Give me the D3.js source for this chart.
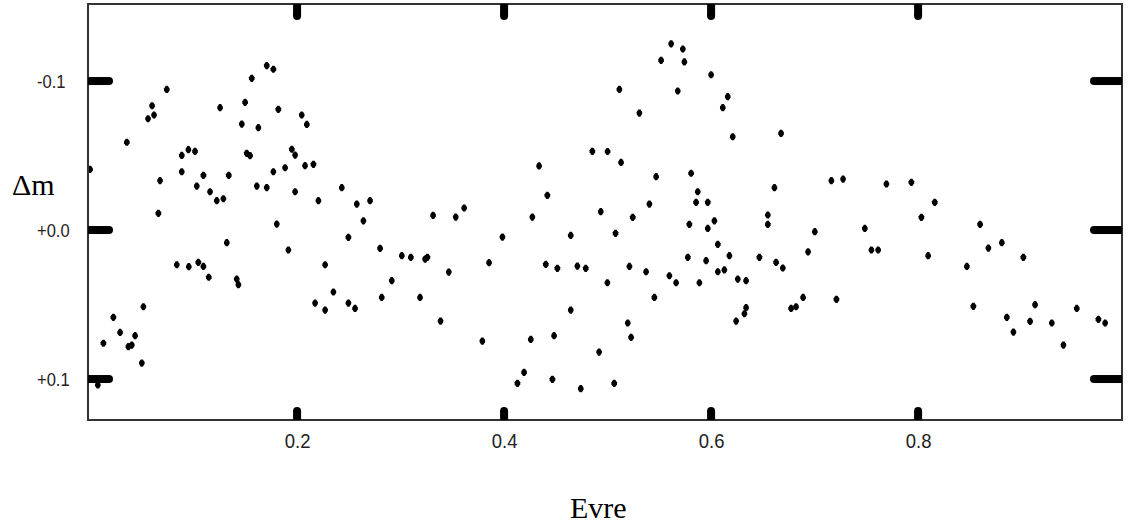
<!DOCTYPE html>
<html>
<head>
<meta charset="utf-8">
<script src="https://cdn.jsdelivr.net/npm/d3@7"></script>
<style>
  html, body { margin: 0; padding: 0; background: #fff; }
  svg { display: block; }
</style>
</head>
<body>
<svg id="chart" width="1128" height="529"></svg>
<script>
// ---- data ----
const phase = [
  0.000, 0.0075, 0.0129, 0.0225, 0.0290, 0.0370, 0.0403, 0.0435, 0.0500, 0.0515,
  0.0355, 0.0560, 0.0599, 0.0618, 0.0741, 0.0676, 0.0660, 0.0838, 0.0886, 0.0886,
  0.0950, 0.0954, 0.1014, 0.1031, 0.1046, 0.1095, 0.1095, 0.1147, 0.1159, 0.1224,
  0.1256, 0.1288, 0.1321, 0.1340, 0.1417, 0.1433, 0.1466, 0.1498, 0.1514, 0.1546,
  0.1562, 0.1611, 0.1626,
  0.1707, 0.1771, 0.1819, 0.2045, 0.2094, 0.1949, 0.1981, 0.1771, 0.1884, 0.2077,
  0.2158, 0.1707, 0.1981, 0.2206, 0.2432, 0.2577, 0.2705, 0.2641, 0.1804, 0.2496,
  0.1916, 0.2802, 0.3012, 0.3099, 0.3237, 0.3259, 0.3314, 0.2271, 0.2915, 0.2351,
  0.2174, 0.2271, 0.2496, 0.2560, 0.2818, 0.3188, 0.3386,
  0.3533, 0.3614, 0.4338, 0.4418, 0.4273, 0.4853, 0.5000, 0.4934, 0.5077, 0.3984,
  0.4644, 0.3855, 0.3466, 0.4403, 0.4515, 0.4708, 0.4789, 0.4998, 0.4644, 0.3790,
  0.4258, 0.4483, 0.4918, 0.4193, 0.4129, 0.4467, 0.4741, 0.5064,
  0.5614, 0.5727, 0.5517, 0.5742, 0.6000, 0.5114, 0.5678, 0.6161, 0.6113, 0.5307,
  0.6209, 0.6676, 0.5130, 0.5469, 0.5807, 0.5871, 0.5855, 0.5968, 0.5404, 0.6612,
  0.6548, 0.6548, 0.5243, 0.5790, 0.5968, 0.6032, 0.6065, 0.5775, 0.5952, 0.6177,
  0.6467, 0.6628, 0.6693, 0.5211, 0.5372, 0.5597, 0.5662, 0.5887, 0.6065, 0.6128,
  0.6258, 0.6338, 0.5452, 0.6338, 0.6322, 0.6242, 0.5195, 0.5227,
  0.7162, 0.7275, 0.7694, 0.7935, 0.8161, 0.8032, 0.7002, 0.7485, 0.6937, 0.7549,
  0.7614, 0.8097, 0.6889, 0.6773, 0.6821, 0.7211,
  0.8599, 0.8679, 0.8809, 0.9017, 0.8471, 0.8534, 0.8857, 0.8921, 0.9082, 0.9130,
  0.9292, 0.9404, 0.9533, 0.9742, 0.9807
];
const deltaM = [
  -0.0407, 0.1040, 0.0760, 0.0586, 0.0687, 0.0783, 0.0772, 0.0709, 0.0893, 0.0515,
  -0.0589, -0.0747, -0.0834, -0.0772, -0.0944, -0.0331, -0.0112, 0.0233, -0.0501, -0.0391,
  -0.0539, 0.0246, -0.0528, -0.0295, 0.0217, -0.0367, 0.0244, 0.0317, -0.0257, -0.0197,
  -0.0821, -0.0210, 0.0085, -0.0367, 0.0329, 0.0367, -0.0711, -0.0857, -0.0515, -0.0499,
  -0.1018, -0.0295, -0.0687,
  -0.1104, -0.1079, -0.0810, -0.0772, -0.0709, -0.0542, -0.0503, -0.0391, -0.0418, -0.0432,
  -0.0441, -0.0285, -0.0257, -0.0197, -0.0284, -0.0174, -0.0197, -0.0062, -0.0040, 0.0049,
  0.0134, 0.0123, 0.0172, 0.0183, 0.0195, 0.0183, -0.0099, 0.0233, 0.0340, 0.0416,
  0.0490, 0.0537, 0.0490, 0.0526, 0.0452, 0.0452, 0.0611,
  -0.0087, -0.0148, -0.0430, -0.0233, -0.0087, -0.0528, -0.0527, -0.0123, 0.0022, 0.0047,
  0.0036, 0.0219, 0.0282, 0.0230, 0.0257, 0.0242, 0.0257, 0.0354, 0.0537, 0.0745,
  0.0734, 0.0709, 0.0819, 0.0955, 0.1029, 0.1002, 0.1065, 0.1029,
  -0.1250, -0.1215, -0.1139, -0.1128, -0.1042, -0.0944, -0.0933, -0.0895, -0.0821, -0.0785,
  -0.0626, -0.0649, -0.0454, -0.0358, -0.0381, -0.0257, -0.0186, -0.0186, -0.0174, -0.0284,
  -0.0101, -0.0038, -0.0085, -0.0038, -0.0011, -0.0062, 0.0096, 0.0183, 0.0206, 0.0172,
  0.0183, 0.0217, 0.0255, 0.0244, 0.0280, 0.0307, 0.0354, 0.0354, 0.0280, 0.0268,
  0.0329, 0.0340, 0.0452, 0.0521, 0.0562, 0.0611, 0.0624, 0.0720,
  -0.0331, -0.0342, -0.0309, -0.0320, -0.0186, -0.0085, 0.0011, -0.0011, 0.0146, 0.0134,
  0.0134, 0.0172, 0.0452, 0.0526, 0.0515, 0.0465,
  -0.0038, 0.0121, 0.0085, 0.0183, 0.0244, 0.0512, 0.0586, 0.0685, 0.0613, 0.0501,
  0.0624, 0.0772, 0.0526, 0.0599, 0.0624
];
const xTicks = [0.2, 0.4, 0.6, 0.8];
const xTickLabels = ["0.2", "0.4", "0.6", "0.8"];
const yTicks = [-0.1, 0.0, 0.1];
const yTickLabels = ["-0.1", "+0.0", "+0.1"];
const xTitle = "Evre";
const yTitle = "\u0394m";

// ---- layout ----
const frame = { left: 88, top: 4, right: 1122, bottom: 420 };
const svg = d3.select("#chart");

const x = d3.scaleLinear().domain([-0.002, 0.997]).range([frame.left, frame.right]);
const y = d3.scaleLinear().domain([-0.1517, 0.1275]).range([frame.top, frame.bottom]);

// points
const marker = "M-1,-3.6L1,-3.6L2.8,-1L2.8,1L1,3.6L-1,3.6L-2.8,1L-2.8,-1Z";
svg.append("g").selectAll("path")
  .data(d3.range(phase.length))
  .join("path")
  .attr("d", marker)
  .attr("fill", "#000")
  .attr("transform", i => `translate(${x(phase[i])},${y(deltaM[i])})`);

// frame
svg.append("rect")
  .attr("x", frame.left).attr("y", frame.top)
  .attr("width", frame.right - frame.left).attr("height", frame.bottom - frame.top)
  .attr("fill", "none").attr("stroke", "#333").attr("stroke-width", 2);

// heavy tick marks
const tw = 8, r = tw / 2;
const tg = svg.append("g").attr("fill", "#000");
function hTick(x0, x1, yy) {
  const dir = x1 > x0 ? 1 : -1;
  tg.append("rect")
    .attr("x", Math.min(x0, x1 - dir * r)).attr("y", yy - r)
    .attr("width", Math.abs(x1 - dir * r - x0)).attr("height", tw);
  tg.append("circle").attr("cx", x1 - dir * r).attr("cy", yy).attr("r", r);
}
function vTick(y0, y1, xx) {
  const dir = y1 > y0 ? 1 : -1;
  tg.append("rect")
    .attr("x", xx - r).attr("y", Math.min(y0, y1 - dir * r))
    .attr("width", tw).attr("height", Math.abs(y1 - dir * r - y0));
  tg.append("circle").attr("cx", xx).attr("cy", y1 - dir * r).attr("r", r);
}
yTicks.forEach(v => {
  hTick(frame.left, frame.left + 25, y(v));
  hTick(frame.right, frame.right - 32, y(v));
});
xTicks.forEach(v => {
  vTick(frame.top, frame.top + 16, x(v));
  vTick(frame.bottom, frame.bottom - 13, x(v));
});

// tick labels via axes
const xAxis = d3.axisBottom(x).tickValues(xTicks)
  .tickFormat((d, i) => xTickLabels[i]).tickSize(0).tickPadding(0);
const gx = svg.append("g").attr("transform", `translate(0,${frame.bottom})`).call(xAxis);
gx.select(".domain").remove();
gx.selectAll("text")
  .attr("dy", null).attr("y", 28)
  .attr("transform", "scale(0.88,1)")
  .attr("font-family", "'Liberation Sans', Arial, sans-serif")
  .attr("font-size", 21).attr("fill", "#222");

const yAxis = d3.axisLeft(y).tickValues(yTicks)
  .tickFormat((d, i) => yTickLabels[i]).tickSize(0).tickPadding(0);
const gy = svg.append("g").attr("transform", `translate(37,0)`).call(yAxis);
gy.select(".domain").remove();
gy.selectAll("text")
  .attr("x", 0).attr("text-anchor", "start").attr("dy", "0.36em")
  .attr("transform", "scale(0.92,1)")
  .attr("font-family", "'Liberation Sans', Arial, sans-serif")
  .attr("font-size", 18).attr("fill", "#222");

// titles
svg.append("text").attr("x", 12).attr("y", 195)
  .attr("font-family", "'Liberation Serif', 'Times New Roman', serif")
  .attr("font-size", 30).attr("fill", "#000").text(yTitle);
svg.append("text").attr("x", 570).attr("y", 518)
  .attr("font-family", "'Liberation Serif', 'Times New Roman', serif")
  .attr("font-size", 30).attr("fill", "#000").text(xTitle);
</script>
</body>
</html>
